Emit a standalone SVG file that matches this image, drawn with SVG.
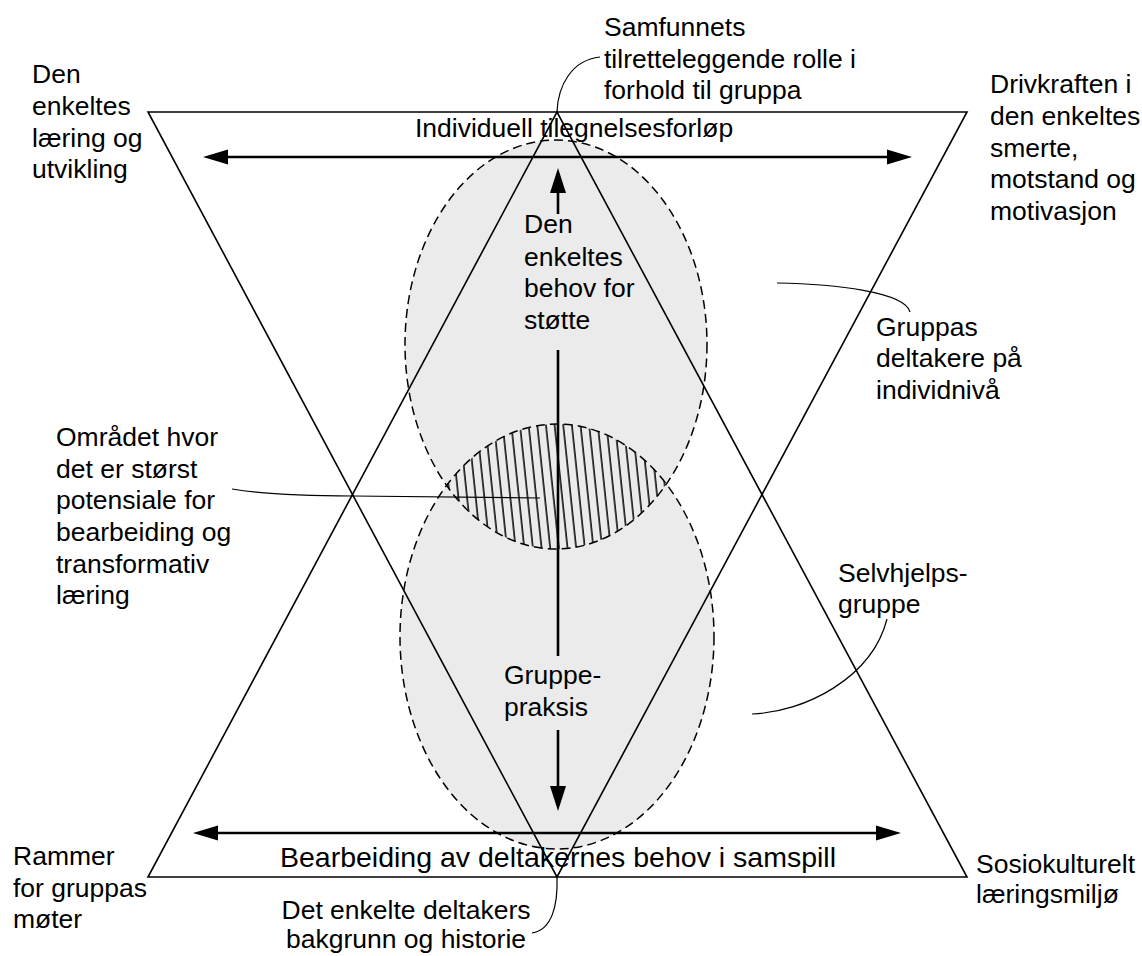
<svg xmlns="http://www.w3.org/2000/svg" width="1142" height="956" viewBox="0 0 1142 956">
<style>
text{font-family:"Liberation Sans",Arial,sans-serif;font-size:26.5px;fill:#000}
.big{font-size:28.5px}
.tri{fill:none;stroke:#000;stroke-width:1.6;stroke-linejoin:miter}
.ell{fill:#ebebeb;stroke:none}
.dash{fill:none;stroke:#000;stroke-width:1.5;stroke-dasharray:9,5}
.arr{stroke:#000;stroke-width:2.6;fill:none}
.head{fill:#000;stroke:none}
.lead{fill:none;stroke:#000;stroke-width:1.2}
</style>
<defs>
<pattern id="hatch" patternUnits="userSpaceOnUse" width="8.6" height="20" patternTransform="rotate(-6 557 486)">
<line x1="2" y1="-2" x2="2" y2="22" stroke="#000" stroke-width="1.5"/>
</pattern>
<clipPath id="cTop"><ellipse cx="556" cy="344.5" rx="151" ry="204.5"/></clipPath>
<clipPath id="cBot"><ellipse cx="557" cy="636.5" rx="157" ry="212.5"/></clipPath>
</defs>
<rect width="1142" height="956" fill="#fff"/>
<g id="groups">
<ellipse class="ell" cx="556" cy="344.5" rx="151" ry="204.5"/>
<ellipse class="ell" cx="557" cy="636.5" rx="157" ry="212.5"/>
<g clip-path="url(#cTop)"><rect x="380" y="400" width="360" height="180" fill="url(#hatch)" clip-path="url(#cBot)"/></g>
<ellipse class="dash" cx="556" cy="344.5" rx="151" ry="204.5"/>
<ellipse class="dash" cx="557" cy="636.5" rx="157" ry="212.5"/>
</g>
<g id="triangles">
<polygon class="tri" points="148,112 967,112 557,877"/>
<polygon class="tri" points="148,877 967,877 557,112"/>
</g>
<g id="connectors">
<line class="arr" x1="225" y1="157" x2="890" y2="157"/>
<polygon class="head" points="203,157 228,149.5 228,164.5"/>
<polygon class="head" points="912,157 887,149.5 887,164.5"/>
<line class="arr" x1="215" y1="833" x2="879" y2="833"/>
<polygon class="head" points="193,833 218,825.5 218,840.5"/>
<polygon class="head" points="901,833 876,825.5 876,840.5"/>
<line class="arr" x1="558" y1="190" x2="558" y2="214"/>
<line class="arr" x1="558" y1="350" x2="558" y2="656"/>
<line class="arr" x1="558" y1="730" x2="558" y2="789"/>
<polygon class="head" points="558,168 550,193 566,193"/>
<polygon class="head" points="558,811 550,786 566,786"/>
<path class="lead" d="M600,57 C572,60 558,85 557,112"/>
<path class="lead" d="M557,877 C558,905 552,930 532,933"/>
<path class="lead" d="M232,489 C262,494 300,496 353,496 L540,498"/>
<path class="lead" d="M777,283 C835,284 905,292 910,312"/>
<path class="lead" d="M887,619 C872,678 805,712 752,714"/>
</g>
<g id="label-samfunnets"><text x="604" y="36">Samfunnets</text><text x="604" y="68">tilretteleggende rolle i</text><text x="604" y="99">forhold til gruppa</text></g>
<g id="label-den-enkeltes"><text x="32" y="83">Den</text><text x="32" y="115">enkeltes</text><text x="32" y="147">læring og</text><text x="32" y="178">utvikling</text></g>
<g id="label-drivkraften"><text x="990" y="93">Drivkraften i</text><text x="990" y="125">den enkeltes</text><text x="990" y="157">smerte,</text><text x="990" y="188">motstand og</text><text x="990" y="220">motivasjon</text></g>
<g id="label-individuell"><text x="415" y="137">Individuell tilegnelsesforløp</text></g>
<g id="label-behov"><text x="524" y="233">Den</text><text x="524" y="266">enkeltes</text><text x="524" y="297">behov for</text><text x="524" y="329">støtte</text></g>
<g id="label-gruppas"><text x="876" y="336">Gruppas</text><text x="876" y="367">deltakere på</text><text x="876" y="399">individnivå</text></g>
<g id="label-omradet"><text x="56" y="446">Området hvor</text><text x="56" y="478">det er størst</text><text x="56" y="509">potensiale for</text><text x="56" y="541">bearbeiding og</text><text x="56" y="573">transformativ</text><text x="56" y="604">læring</text></g>
<g id="label-selvhjelp"><text x="838" y="582">Selvhjelps-</text><text x="838" y="613">gruppe</text></g>
<g id="label-gruppepraksis"><text x="504" y="684">Gruppe-</text><text x="504" y="716">praksis</text></g>
<g id="label-bearbeiding"><text class="big" x="558" y="867" text-anchor="middle">Bearbeiding av deltakernes behov i samspill</text></g>
<g id="label-rammer"><text x="13" y="865">Rammer</text><text x="13" y="897">for gruppas</text><text x="13" y="928">møter</text></g>
<g id="label-sosio"><text x="976" y="873">Sosiokulturelt</text><text x="976" y="903">læringsmiljø</text></g>
<g id="label-bakgrunn"><text x="406" y="919" text-anchor="middle">Det enkelte deltakers</text><text x="406" y="948" text-anchor="middle">bakgrunn og historie</text></g>
</svg>
